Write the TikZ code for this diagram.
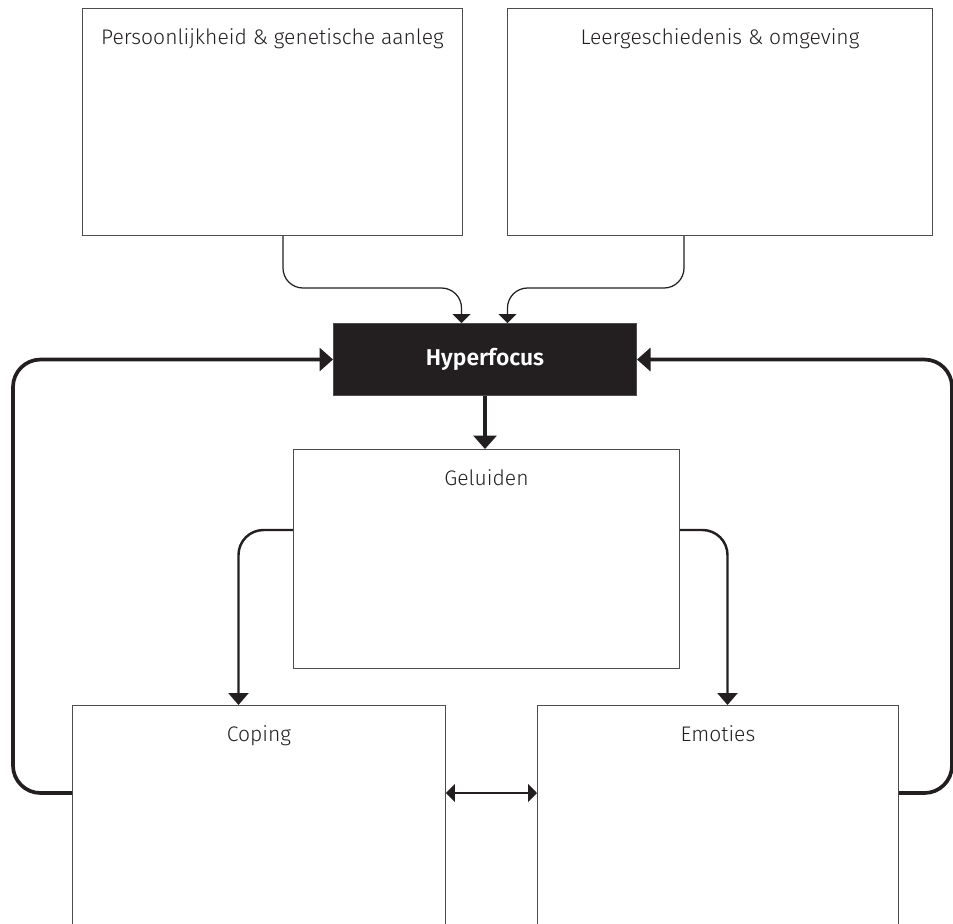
\documentclass[tikz,border=0pt]{standalone}
\usepackage{fontspec}
\setmainfont{Fira Sans}[UprightFont=* Light,BoldFont=* SemiBold]
\usetikzlibrary{arrows.meta,calc}
\definecolor{ink}{HTML}{231F20}

\begin{document}
\begin{tikzpicture}[x=0.02cm,y=-0.02cm,
    box/.style={draw=ink!80,line width=0.6pt,anchor=north west,inner sep=0pt},
    title/.style={label={[anchor=north,yshift=-0.29cm,text=ink,font=\fontsize{12}{14}\selectfont]north:#1}},
    feed/.style={draw=ink,line width=0.7pt,rounded corners=0.4cm,-{Triangle[width=0.36cm,length=0.18cm]}},
    branch/.style={draw=ink,line width=1.4pt,rounded corners=0.5cm,-{Triangle[width=0.4cm,length=0.24cm]}},
    loop/.style={draw=ink,line width=2.1pt,rounded corners=0.55cm,-{Triangle[width=0.46cm,length=0.27cm]}}]
  \useasboundingbox (0,0) rectangle (953,923);
  \clip (0,0) rectangle (953,923);
  % boxes
  \node[box,minimum width=7.6cm,minimum height=4.54cm,title={Persoonlijkheid \& genetische aanleg}] (pers) at (82,8) {};
  \node[box,minimum width=8.5cm,minimum height=4.54cm,title={Leergeschiedenis \& omgeving}] (leer) at (507,8) {};
  \node[box,fill=ink,minimum width=6.06cm,minimum height=1.44cm,text=white,font=\fontsize{13}{15}\selectfont\bfseries] (hyper) at (333,323) {Hyperfocus};
  \node[box,minimum width=7.72cm,minimum height=4.38cm,title={Geluiden}] (gel) at (293,449) {};
  \node[box,minimum width=7.46cm,minimum height=5.6cm,title={Coping}] (cop) at (72,705) {};
  \node[box,minimum width=7.22cm,minimum height=5.6cm,title={Emoties}] (emo) at (537,705) {};
  % influences
  \draw[feed] ($(pers.south west)+(201,0)$) -- ++(0,52) -| ([xshift=-0.47cm]hyper.north);
  \draw[feed] ($(leer.south west)+(177,0)$) -- ++(0,52) -| ([xshift=0.45cm]hyper.north);
  \draw[loop] (hyper.south) -- (hyper.south |- gel.north);
  \draw[branch] ($(gel.north west)+(0,81)$) -| ([xshift=-0.41cm]cop.north);
  \draw[branch] ($(gel.north east)+(0,81)$) -| ([xshift=0.19cm]emo.north);
  \draw[draw=ink,line width=0.7pt,{Triangle[width=0.36cm,length=0.18cm]}-{Triangle[width=0.36cm,length=0.18cm]}]
    ($(cop.north east)+(0,88)$) -- ($(emo.north west)+(0,88)$);
  % feedback
  \draw[loop] ($(cop.north west)+(0,88)$) -- ++(-59,0) |- (hyper.west);
  \draw[loop] ($(emo.north east)+(0,88)$) -- ++(53,0) |- (hyper.east);
\end{tikzpicture}
\end{document}
